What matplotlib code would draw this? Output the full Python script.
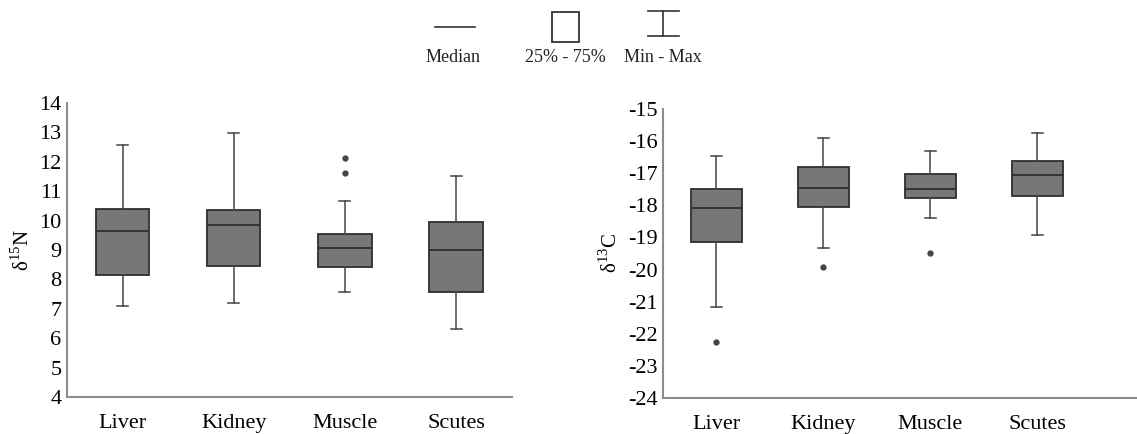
import matplotlib
matplotlib.use('Agg')
import matplotlib.pyplot as plt
from matplotlib.patches import Rectangle
from matplotlib.lines import Line2D

plt.rcParams['font.family'] = ['Liberation Serif', 'DejaVu Serif']
plt.rcParams['mathtext.fontset'] = 'custom'
plt.rcParams['mathtext.rm'] = 'Liberation Serif'

# ── data ──────────────────────────────────────────────────────────────────────
tissues = ['Liver', 'Kidney', 'Muscle', 'Scutes']

n_whislo = [7.08, 7.20, 7.57, 6.31]
n_q1     = [8.15, 8.47, 8.43, 7.58]
n_med    = [9.63, 9.85, 9.07, 9.00]
n_q3     = [10.39, 10.36, 9.53, 9.94]
n_whishi = [12.57, 12.97, 10.66, 11.51]
n_fliers = [[], [], [12.13, 11.62], []]

c_whislo = [-21.17, -19.33, -18.39, -18.93]
c_q1     = [-19.14, -18.05, -17.78, -17.70]
c_med    = [-18.08, -17.47, -17.49, -17.06]
c_q3     = [-17.49, -16.82, -17.02, -16.61]
c_whishi = [-16.45, -15.90, -16.32, -15.76]
c_fliers = [[-22.25], [-19.93], [-19.49], []]

# ── colours ───────────────────────────────────────────────────────────────────
C_BOX  = '#777777'
C_EDGE = '#2e2e2e'
C_LINE = '#444444'
C_SPINE = '#8c8c8c'


def make_stats(lo, q1, med, q3, hi, fl):
    return [dict(whislo=a, q1=b, med=c, q3=d, whishi=e, fliers=f, label=t)
            for a, b, c, d, e, f, t in zip(lo, q1, med, q3, hi, fl, tissues)]


def draw(ax, stats, ylim, yticks, ylabel, xlim):
    ax.bxp(stats, widths=0.48, capwidths=0.1, patch_artist=True,
           boxprops=dict(facecolor=C_BOX, edgecolor=C_EDGE, lw=1.3),
           medianprops=dict(color=C_EDGE, lw=1.3),
           whiskerprops=dict(color=C_LINE, lw=1.1),
           capprops=dict(color=C_LINE, lw=1.1),
           flierprops=dict(marker='o', markersize=3.5, markerfacecolor='#444444',
                           markeredgecolor='#444444'))
    ax.set_ylim(*ylim)
    ax.set_xlim(*xlim)
    ax.set_yticks(yticks)
    ax.set_yticklabels([str(v) for v in yticks])
    ax.tick_params(axis='x', length=0, labelsize=16, pad=12)
    ax.tick_params(axis='y', length=0, labelsize=16, pad=4)
    for s in ['top', 'right']:
        ax.spines[s].set_visible(False)
    for s in ['left', 'bottom']:
        ax.spines[s].set_color(C_SPINE)
        ax.spines[s].set_linewidth(1.5)
    ax.set_ylabel(ylabel, fontsize=15, labelpad=4)


fig = plt.figure(figsize=(11.37, 4.34), dpi=100)

ax1 = fig.add_axes([0.059, 0.0853, 0.391, 0.6774])
draw(ax1, make_stats(n_whislo, n_q1, n_med, n_q3, n_whishi, n_fliers),
     (4, 14), list(range(4, 15)), 'δ$^{15}$N', (0.5, 4.5))

ax2 = fig.add_axes([0.583, 0.083, 0.417, 0.666])
draw(ax2, make_stats(c_whislo, c_q1, c_med, c_q3, c_whishi, c_fliers),
     (-24, -15), list(range(-24, -14)), 'δ$^{13}$C', (0.5, 4.93))

# ── legend key at the top (figure pixel coords) ───────────────────────────────
W, H = 1137, 434
lg = fig.add_axes([0, 0, 1, 1], zorder=5)
lg.set_xlim(0, W)
lg.set_ylim(H, 0)
lg.axis('off')

lg.add_line(Line2D([435, 475], [27, 27], color='#333333', lw=1.2))
lg.add_patch(Rectangle((552, 12), 27, 30, fill=False, edgecolor='#333333', lw=1.3))
lg.add_line(Line2D([648, 679], [11, 11], color='#333333', lw=1.2))
lg.add_line(Line2D([648, 679], [36, 36], color='#333333', lw=1.2))
lg.add_line(Line2D([663, 663], [11, 36], color='#333333', lw=1.2))

for x, t in [(453, 'Median'), (565, '25% - 75%'), (663, 'Min - Max')]:
    lg.text(x, 58, t, ha='center', va='center', fontsize=13, color='#222222')

fig.savefig('out.png', dpi=100)
